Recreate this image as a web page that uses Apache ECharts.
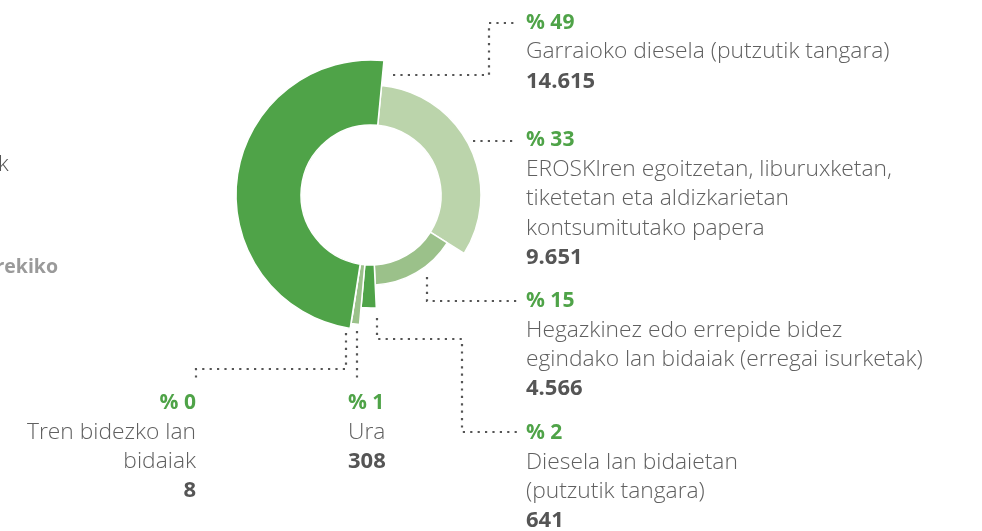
<!DOCTYPE html>
<html>
<head>
<meta charset="utf-8">
<script src="https://cdn.jsdelivr.net/npm/echarts@6/dist/echarts.min.js"></script>
<style>
  html, body { margin: 0; padding: 0; background: #ffffff; }
  #chart { width: 982px; height: 531px; }
</style>
</head>
<body>
<div id="chart"></div>
<script>
// Emission sources, in clockwise order starting just right of 12 o'clock
const categories = [
  'EROSKIren egoitzetan, liburuxketan,\ntiketetan eta aldizkarietan\nkontsumitutako papera',
  'Hegazkinez edo errepide bidez\negindako lan bidaiak (erregai isurketak)',
  'Diesela lan bidaietan\n(putzutik tangara)',
  'Ura',
  'Tren bidezko lan\nbidaiak',
  'Garraioko diesela (putzutik tangara)'
];
const values = [9651, 4566, 641, 308, 8, 14615];
const percentLabels = ['% 33', '% 15', '% 2', '% 1', '% 0', '% 49'];

// Styling per slice
const sliceColors = ['#bbd4ab', '#9bc18a', '#4fa348', '#9bc18a', '#9bc18a', '#4fa348'];
const outerRadii = [110, 90, 113, 130, 124, 135];
const innerRadius = 70;
const pieCenter = [371, 195];

// Label block placement (top of the text block) and leader-line routes
const labelAnchors = [
  { x: 526, y: 125.5, align: 'left' },
  { x: 526, y: 286.5, align: 'left' },
  { x: 526, y: 418.5, align: 'left' },
  { x: 348, y: 388.5, align: 'left' },
  { x: 196, y: 388.5, align: 'right' },
  { x: 526, y: 8, align: 'left' }
];
const guidePaths = [
  [[473, 141], [517, 141]],
  [[427, 277], [427, 301], [517, 301]],
  [[377, 318], [377, 339], [462, 339], [462, 432], [517, 432]],
  [[357, 331], [357, 382]],
  [[346, 333], [346, 369], [196, 369], [196, 381]],
  [[393, 75], [489, 75], [489, 23], [517, 23]]
];

const LH = 29.3;
const FONT = '"Open Sans", Lato, sans-serif';
const rich = {
  p: { fontFamily: FONT, fontSize: 21, fontWeight: 'bold', color: '#4fa348', lineHeight: LH },
  n: { fontFamily: FONT, fontSize: 22.8, fontWeight: 300, color: '#606060', lineHeight: LH },
  v: { fontFamily: FONT, fontSize: 22, fontWeight: 'bold', color: '#555555', lineHeight: LH }
};

function fmt(v) {
  return String(v).replace(/\B(?=(\d{3})+(?!\d))/g, '.');
}

const chart = echarts.init(document.getElementById('chart'), null, { renderer: 'canvas' });

// One ring per slice so every slice can have its own outer radius;
// all rings share the same data, so the angles line up exactly.
const series = values.map(function (_, k) {
  return {
    type: 'pie',
    center: pieCenter,
    radius: [innerRadius, outerRadii[k]],
    startAngle: 84.5,
    clockwise: true,
    avoidLabelOverlap: false,
    animation: false,
    emphasis: { disabled: true },
    z: 2,
    data: categories.map(function (name, i) {
      const own = i === k;
      return {
        name: name,
        value: values[i],
        itemStyle: own
          ? { color: sliceColors[i], borderColor: '#ffffff', borderWidth: 1.5 }
          : { color: 'rgba(0,0,0,0)', borderWidth: 0 },
        label: { show: own },
        labelLine: { show: own }
      };
    }),
    label: {
      position: 'outside',
      formatter: function (p) {
        const lines = p.name.split('\n').map(function (s) { return '{n|' + s + '}'; });
        return ['{p|' + percentLabels[p.dataIndex] + '}'].concat(lines, ['{v|' + fmt(p.value) + '}']).join('\n');
      },
      rich: rich
    },
    labelLine: {
      show: true,
      smooth: false,
      lineStyle: { color: '#555555', width: 2.2, type: [2.2, 5.2], cap: 'butt' }
    },
    labelLayout: function (p) {
      if (p.dataIndex !== k) return {};
      const a = labelAnchors[k];
      return {
        x: a.x,
        y: a.y,
        align: a.align,
        verticalAlign: 'top',
        labelLinePoints: guidePaths[k]
      };
    }
  };
});

chart.setOption({
  backgroundColor: '#ffffff',
  series: series,
  graphic: [
    {
      type: 'text', left: -2, top: 154,
      style: { text: 'k', fontFamily: FONT, fontSize: 22, fontWeight: 300, fill: '#555555' }
    },
    {
      type: 'text', right: 924, top: 257,
      style: { text: 'Ingurumenarekiko', fontFamily: FONT, fontSize: 19.5, fontWeight: 'bold', fill: '#9a9a9a', align: 'right' }
    }
  ]
});
</script>
</body>
</html>
